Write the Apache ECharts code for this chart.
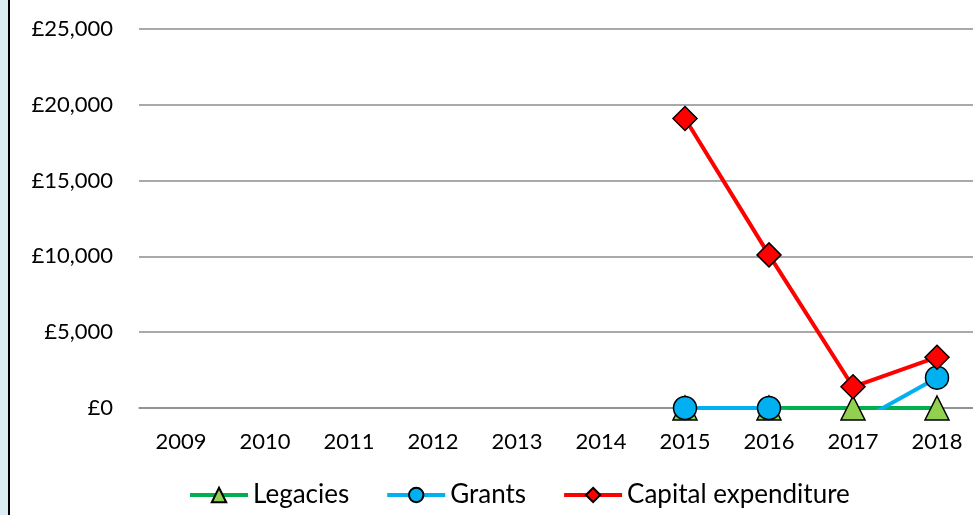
<!DOCTYPE html>
<html>
<head>
<meta charset="utf-8">
<script src="https://cdn.jsdelivr.net/npm/echarts@6/dist/echarts.min.js"></script>
<style>
  html, body { margin: 0; padding: 0; background: #daeef3; overflow: hidden; }
  #wrap { position: absolute; left: 8px; top: 0; width: 965px; height: 515px; background: #fff; border-left: 2px solid #000; overflow: hidden; }
  #chart { width: 1000px; height: 515px; }
</style>
</head>
<body>
<div id="wrap"><div id="chart"></div></div>
<script>
const years = ['2009', '2010', '2011', '2012', '2013', '2014', '2015', '2016', '2017', '2018'];
const legacies = [null, null, null, null, null, null, 0, 0, 0, 0];
const grants = [null, null, null, null, null, null, 0, 0, -1100, 2000];
const capital = [null, null, null, null, null, null, 19100, 10100, 1400, 3350];

const font = 'Lato, "Open Sans", sans-serif';
let myChart = echarts.init(document.getElementById('chart'));
let option = {
    animation: false,
    textStyle: { fontFamily: font },
    grid: { left: 129, top: 29, width: 840, height: 379 },
    xAxis: {
        type: 'category',
        data: years,
        axisLine: { lineStyle: { color: '#8c8c8c', width: 1.5 } },
        axisTick: { show: false },
        axisLabel: { color: '#000', fontSize: 22, margin: 23, fontFamily: font }
    },
    yAxis: {
        type: 'value',
        min: 0,
        max: 25000,
        interval: 5000,
        axisLine: { show: false },
        axisTick: { show: false },
        axisLabel: {
            color: '#000', fontSize: 22, margin: 26, fontFamily: font,
            formatter: v => '£' + v.toLocaleString('en-GB')
        },
        splitLine: { lineStyle: { color: '#8c8c8c', width: 1.5 } }
    },
    legend: {
        bottom: 2,
        left: 173,
        itemWidth: 58,
        itemHeight: 18,
        itemGap: 36,
        lineStyle: { width: 4 },
        textStyle: { color: '#000', fontSize: 26, fontFamily: font },
        data: ['Legacies', 'Grants', 'Capital expenditure']
    },
    series: [
        {
            name: 'Legacies',
            type: 'line',
            data: legacies,
            symbol: 'triangle',
            symbolSize: 24,
            lineStyle: { color: '#00b050', width: 4 },
            itemStyle: { color: '#92d050', borderColor: '#000', borderWidth: 1.5 }
        },
        {
            name: 'Grants',
            type: 'line',
            data: grants,
            symbol: 'circle',
            symbolSize: 23,
            lineStyle: { color: '#00b0f0', width: 4 },
            itemStyle: { color: '#00b0f0', borderColor: '#000', borderWidth: 1.5 }
        },
        {
            name: 'Capital expenditure',
            type: 'line',
            data: capital,
            symbol: 'diamond',
            symbolSize: 24,
            lineStyle: { color: '#ff0000', width: 4 },
            itemStyle: { color: '#ff0000', borderColor: '#000', borderWidth: 1.5 }
        }
    ]
};
myChart.setOption(option);
</script>
</body>
</html>
